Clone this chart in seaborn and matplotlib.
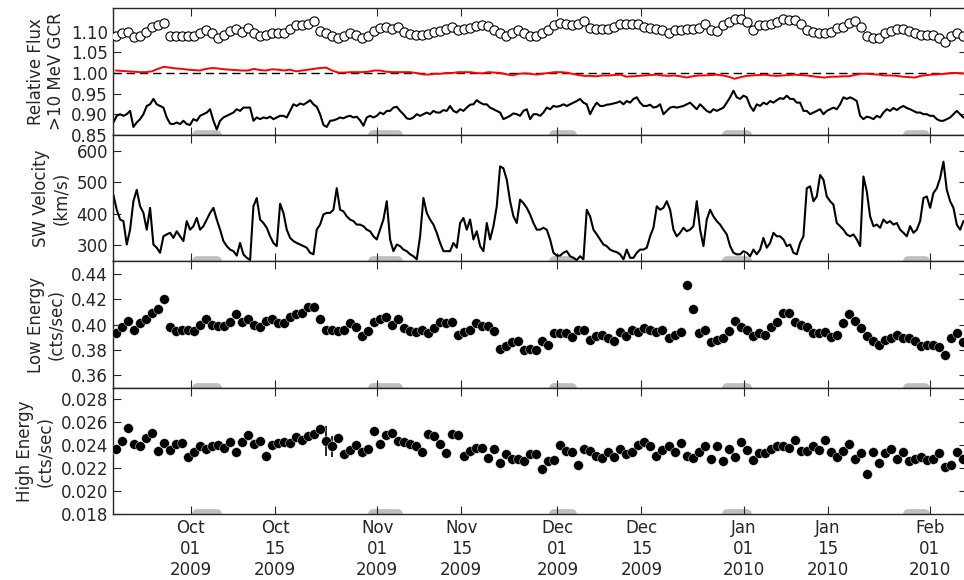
import numpy as np
import pandas as pd
import matplotlib
matplotlib.use("Agg")
import matplotlib.pyplot as plt
import matplotlib.dates as mdates
import seaborn as sns

# daily values (one per day, at noon, from 2009-09-18)
gcr_daily = [
    1.089, 1.098, 1.100, 1.088, 1.089, 1.100, 1.112, 1.116, 1.122, 1.089,
    1.089, 1.089, 1.089, 1.089, 1.098, 1.104, 1.098, 1.086, 1.093, 1.102,
    1.106, 1.100, 1.108, 1.098, 1.090, 1.092, 1.098, 1.098, 1.096, 1.106,
    1.116, 1.116, 1.119, 1.127, 1.102, 1.096, 1.089, 1.084, 1.089, 1.096,
    1.092, 1.086, 1.089, 1.102, 1.108, 1.112, 1.106, 1.111, 1.100, 1.094,
    1.092, 1.092, 1.094, 1.100, 1.102, 1.106, 1.112, 1.104, 1.106, 1.108,
    1.114, 1.116, 1.114, 1.104, 1.096, 1.089,
    1.096, 1.104, 1.096, 1.089, 1.089, 1.096, 1.104, 1.116, 1.122, 1.120,
    1.116, 1.120, 1.127, 1.108, 1.106, 1.106, 1.106, 1.112, 1.119, 1.120,
    1.119, 1.119, 1.112, 1.108, 1.106, 1.104, 1.096, 1.104, 1.104, 1.106,
    1.106, 1.108, 1.119, 1.104, 1.102, 1.116, 1.124, 1.132, 1.130, 1.124,
    1.104, 1.116, 1.116, 1.119, 1.124, 1.130, 1.128, 1.128, 1.119, 1.104,
    1.100, 1.098, 1.098, 1.100, 1.108, 1.112, 1.122, 1.127, 1.111, 1.089,
    1.084, 1.086, 1.096, 1.102, 1.106, 1.106, 1.102, 1.096, 1.092, 1.092,
    1.092, 1.086, 1.076, 1.089, 1.096, 1.089]

ratio_daily = [
    1.006, 1.005, 1.004, 1.003, 1.002, 1.002, 1.004, 1.010, 1.015, 1.013,
    1.011, 1.010, 1.008, 1.007, 1.006, 1.010, 1.012, 1.011, 1.009, 1.008,
    1.007, 1.006, 1.006, 1.010, 1.007, 1.006, 1.009, 1.008, 1.006, 1.008,
    1.004, 1.006, 1.008, 1.010, 1.012, 1.013, 1.006, 1.001, 1.001, 1.002,
    1.002, 1.002, 1.003, 1.006, 1.006, 1.003, 1.002, 1.002, 1.002, 1.002,
    1.000, 0.997, 0.996, 0.998, 0.998, 1.000, 1.000, 1.002, 1.002, 1.002,
    1.000, 0.999, 1.002, 1.001, 1.000, 0.997, 0.994, 0.998, 0.999, 0.998,
    0.996, 0.998, 1.000, 1.002, 1.002, 1.001, 0.998, 0.995, 0.993, 0.993,
    0.992, 0.994, 0.994, 0.995, 0.996, 0.991, 0.992, 0.993, 0.994, 0.995,
    0.996, 0.994, 0.993, 0.994, 0.992, 0.989, 0.992, 0.994, 0.994, 0.995,
    0.996, 0.994, 0.991, 0.986, 0.990, 0.993, 0.994, 0.995, 0.996, 0.994,
    0.993, 0.994, 0.995, 0.996, 0.995, 0.994, 0.992, 0.990, 0.989, 0.991,
    0.991, 0.992, 0.992, 0.995, 0.998, 0.998, 0.997, 0.996, 0.994, 0.994,
    0.993, 0.991, 0.990, 0.989, 0.993, 0.995, 0.996, 0.997, 0.998, 1.000,
    1.000, 0.999]

low_energy = [
    0.393, 0.398, 0.403, 0.396, 0.401, 0.404, 0.409, 0.412, 0.420, 0.398,
    0.395, 0.396, 0.396, 0.395, 0.400, 0.404, 0.400, 0.399, 0.399, 0.402,
    0.408, 0.402, 0.404, 0.400, 0.398, 0.403, 0.404, 0.401, 0.401, 0.406,
    0.408, 0.409, 0.414, 0.414, 0.404, 0.396, 0.396, 0.395, 0.396, 0.401,
    0.398, 0.391, 0.395, 0.402, 0.404, 0.406, 0.400, 0.404, 0.397, 0.395,
    0.394, 0.396, 0.393, 0.397, 0.402, 0.401, 0.402, 0.392, 0.394, 0.396,
    0.401, 0.399, 0.399, 0.395, 0.381,
    0.383, 0.386, 0.387, 0.380, 0.381, 0.380, 0.387, 0.384, 0.393, 0.393,
    0.393, 0.390, 0.396, 0.396, 0.388, 0.391, 0.392, 0.389, 0.387, 0.394,
    0.391, 0.396, 0.394, 0.397, 0.396, 0.394, 0.396, 0.389, 0.392, 0.394,
    0.431, 0.412, 0.393, 0.396, 0.386, 0.388, 0.389, 0.395, 0.403, 0.398,
    0.396, 0.391, 0.393, 0.392, 0.398, 0.402, 0.409, 0.409, 0.402, 0.400,
    0.398, 0.393, 0.393, 0.394, 0.390, 0.392, 0.401, 0.408, 0.403, 0.397,
    0.391, 0.387, 0.384, 0.388, 0.389, 0.392, 0.389, 0.389, 0.387, 0.383,
    0.384, 0.384, 0.382, 0.376, 0.389, 0.393, 0.386]

high_energy = [
    0.0237, 0.0244, 0.0255, 0.0241, 0.0239, 0.0246, 0.0251, 0.0235, 0.0242, 0.0236,
    0.0241, 0.0242, 0.0230, 0.0234, 0.0239, 0.0237, 0.0239, 0.0240, 0.0238, 0.0243,
    0.0234, 0.0243, 0.0249, 0.0241, 0.0244, 0.0231, 0.0240, 0.0242, 0.0243, 0.0242,
    0.0247, 0.0245, 0.0248, 0.0250, 0.0254, 0.0244, 0.0239, 0.0246, 0.0232, 0.0236,
    0.0240, 0.0234, 0.0237, 0.0252, 0.0241, 0.0249, 0.0251, 0.0244, 0.0243, 0.0241,
    0.0239, 0.0234, 0.0250, 0.0248, 0.0241, 0.0233, 0.0250, 0.0249, 0.0231, 0.0235,
    0.0238, 0.0238, 0.0229, 0.0237, 0.0225,
    0.0232, 0.0228, 0.0228, 0.0226, 0.0232, 0.0232, 0.0219, 0.0226, 0.0227, 0.0240,
    0.0235, 0.0234, 0.0223, 0.0237, 0.0235, 0.0231, 0.0229, 0.0234, 0.0230, 0.0237,
    0.0232, 0.0234, 0.0240, 0.0243, 0.0239, 0.0231, 0.0236, 0.0239, 0.0234, 0.0242,
    0.0231, 0.0229, 0.0234, 0.0239, 0.0228, 0.0239, 0.0226, 0.0237, 0.0230, 0.0243,
    0.0236, 0.0227, 0.0233, 0.0233, 0.0237, 0.0239, 0.0239, 0.0238, 0.0245, 0.0235,
    0.0235, 0.0239, 0.0236, 0.0245, 0.0234, 0.0230, 0.0235, 0.0241, 0.0228, 0.0233,
    0.0215, 0.0234, 0.0225, 0.0233, 0.0237, 0.0228, 0.0234, 0.0226, 0.0228, 0.0230,
    0.0227, 0.0228, 0.0233, 0.0221, 0.0223, 0.0234, 0.0228]

# uncertainties, mostly hidden under the markers
low_err = 0.0015
high_err = np.full(len(high_energy), 0.0003)
high_err[35] = 0.0013
high_err[36] = 0.0009

# sub-daily series (one reading every ~13.3 h from 2009-09-18 02:30)
gcr_hourly = [
    0.880, 0.896, 0.900, 0.896, 0.900, 0.908, 0.869, 0.880, 0.888, 0.900,
    0.920, 0.924, 0.937, 0.924, 0.920, 0.916, 0.892, 0.877, 0.876, 0.880,
    0.876, 0.884, 0.876, 0.874, 0.888, 0.884, 0.896, 0.900, 0.904, 0.912,
    0.884, 0.863, 0.884, 0.892, 0.896, 0.900, 0.904, 0.912, 0.908, 0.916,
    0.916, 0.916, 0.884, 0.892, 0.888, 0.892, 0.890, 0.894, 0.888, 0.892,
    0.896, 0.896, 0.892, 0.908, 0.924, 0.920, 0.926, 0.923, 0.928, 0.934,
    0.924, 0.918, 0.900, 0.874, 0.869, 0.884, 0.885, 0.888, 0.892, 0.890,
    0.894, 0.896, 0.892, 0.894, 0.885, 0.872, 0.892, 0.896, 0.892, 0.896,
    0.904, 0.900, 0.908, 0.908, 0.916, 0.918, 0.908, 0.900, 0.890, 0.888,
    0.892, 0.900, 0.896, 0.900, 0.904, 0.900, 0.908, 0.904, 0.904, 0.910,
    0.908, 0.920, 0.908, 0.904, 0.912, 0.908, 0.916, 0.923, 0.924, 0.934,
    0.928, 0.924, 0.924, 0.916, 0.912, 0.908, 0.904,
    0.888, 0.892, 0.896, 0.902, 0.900, 0.896, 0.908, 0.912, 0.888, 0.900,
    0.900, 0.896, 0.904, 0.916, 0.912, 0.920, 0.918, 0.920, 0.924, 0.920,
    0.924, 0.928, 0.932, 0.937, 0.928, 0.924, 0.900, 0.916, 0.928, 0.920,
    0.920, 0.923, 0.924, 0.926, 0.928, 0.931, 0.924, 0.932, 0.928, 0.937,
    0.941, 0.928, 0.920, 0.920, 0.923, 0.916, 0.918, 0.924, 0.900, 0.908,
    0.916, 0.918, 0.916, 0.918, 0.920, 0.924, 0.928, 0.920, 0.912, 0.924,
    0.916, 0.908, 0.904, 0.912, 0.908, 0.912, 0.916, 0.928, 0.941, 0.957,
    0.941, 0.937, 0.945, 0.941, 0.920, 0.908, 0.924, 0.920, 0.928, 0.924,
    0.932, 0.928, 0.934, 0.939, 0.937, 0.945, 0.937, 0.937, 0.928, 0.928,
    0.908, 0.908, 0.900, 0.904, 0.908, 0.912, 0.900, 0.908, 0.912, 0.916,
    0.912, 0.924, 0.941, 0.937, 0.941, 0.937, 0.932, 0.896, 0.888, 0.894,
    0.892, 0.888, 0.896, 0.892, 0.904, 0.912, 0.908, 0.915, 0.910, 0.916,
    0.920, 0.915, 0.912, 0.908, 0.904, 0.904, 0.900, 0.900, 0.896, 0.896,
    0.888, 0.884, 0.884, 0.888, 0.892, 0.900, 0.908, 0.900, 0.892]

sw_speed = [
    460, 413, 382, 377, 303, 350, 440, 476, 424, 403,
    350, 419, 303, 293, 277, 329, 335, 340, 324, 345,
    329, 314, 377, 350, 361, 387, 350, 361, 382, 403,
    419, 382, 350, 314, 298, 287, 282, 268, 308, 272,
    261, 254, 424, 450, 382, 371, 356, 329, 308, 298,
    432, 403, 350, 324, 314, 308, 303, 298, 293, 277,
    272, 350, 366, 398, 403, 403, 413, 481, 413, 408,
    392, 382, 377, 366, 366, 361, 350, 345, 329, 319,
    350, 382, 440, 319, 282, 303, 298, 287, 282, 272,
    266, 256, 329, 450, 403, 382, 366, 340, 308, 282,
    282, 282, 308, 293, 371, 387, 350, 382, 319, 345,
    298, 282, 371, 319, 361, 424, 550,
    544, 508, 440, 392, 371, 445, 434, 419, 398, 371,
    350, 350, 356, 350, 319, 277, 268, 268, 277, 282,
    266, 261, 254, 266, 256, 413, 392, 350, 335, 319,
    303, 298, 287, 282, 279, 272, 256, 287, 261, 261,
    277, 287, 287, 293, 329, 356, 424, 413, 419, 440,
    413, 350, 329, 340, 356, 345, 350, 361, 440, 350,
    298, 382, 413, 392, 377, 366, 350, 335, 298, 277,
    272, 272, 282, 277, 266, 287, 272, 287, 324, 293,
    308, 340, 329, 329, 319, 298, 303, 277, 272, 308,
    329, 481, 487, 440, 455, 523, 508, 455, 440, 429,
    371, 361, 350, 335, 329, 335, 319, 298, 518, 471,
    392, 361, 366, 356, 382, 371, 377, 366, 371, 350,
    340, 329, 361, 340, 350, 377, 450, 455, 419, 466,
    481, 513, 565, 476, 440, 419, 366, 350, 377]

# grey bars along the bottom of each panel
grey_start = ["2009-10-01 23:00", "2009-10-31 07:00", "2009-11-30 10:00",
              "2009-12-29 07:00", "2010-01-28 07:00"]
grey_end = ["2009-10-05 09:00", "2009-11-04 12:00", "2009-12-03 10:00",
            "2010-01-01 12:00", "2010-01-31 05:00"]

ylabels = ["Relative Flux\n>10 MeV GCR", "SW Velocity\n(km/s)",
           "Low Energy\n(cts/sec)", "High Energy\n(cts/sec)"]
ylims = [(0.85, 1.157), (250, 650), (0.35, 0.45), (0.018, 0.029)]
yticks = [[0.85, 0.90, 0.95, 1.00, 1.05, 1.10],
          [300, 400, 500, 600],
          [0.36, 0.38, 0.40, 0.42, 0.44],
          [0.018, 0.020, 0.022, 0.024, 0.026, 0.028]]
ytick_fmt = ["%.2f", "%d", "%.2f", "%.3f"]

days = pd.date_range("2009-09-18 12:00", periods=len(gcr_daily), freq="D")
t_fine = pd.date_range("2009-09-18 02:30", periods=len(gcr_hourly), freq="799min")

sns.set_style("ticks")
plt.rcParams["font.family"] = ["DejaVu Sans"]
plt.rcParams["font.size"] = 12
plt.rcParams["axes.linewidth"] = 1.0

fig, axes = plt.subplots(4, 1, sharex=True, figsize=(9.64, 5.80), dpi=100)
fig.subplots_adjust(left=0.117, right=1.003, top=0.9857, bottom=0.1133, hspace=0)

# 1 - GCR flux
ax = axes[0]
ax.axhline(1.0, color="k", lw=1.0, ls=(0, (6, 3.5)), zorder=1)
sns.lineplot(x=t_fine, y=gcr_hourly, ax=ax, color="k", lw=1.5, estimator=None)
sns.lineplot(x=days, y=ratio_daily, ax=ax, color="red", lw=1.4, estimator=None)
sns.scatterplot(x=days, y=gcr_daily, ax=ax, s=44, color="white",
                edgecolor="black", linewidth=0.8, zorder=3)

# 2 - solar wind
ax = axes[1]
sns.lineplot(x=t_fine, y=sw_speed, ax=ax, color="k", lw=1.5, estimator=None)

# 3 - low energy rate
ax = axes[2]
ax.errorbar(days, low_energy, yerr=low_err, fmt="none", ecolor="k", elinewidth=1.2, zorder=2)
sns.scatterplot(x=days, y=low_energy, ax=ax, s=50, color="black",
                edgecolor="white", linewidth=0.3, zorder=3)

# 4 - high energy rate
ax = axes[3]
ax.errorbar(days, high_energy, yerr=high_err, fmt="none", ecolor="k", elinewidth=1.2, zorder=2)
sns.scatterplot(x=days, y=high_energy, ax=ax, s=50, color="black",
                edgecolor="white", linewidth=0.3, zorder=3)

for i, ax in enumerate(axes):
    ax.set_ylim(*ylims[i])
    ax.set_yticks(yticks[i])
    ax.yaxis.set_major_formatter(matplotlib.ticker.FormatStrFormatter(ytick_fmt[i]))
    ax.set_ylabel(ylabels[i], fontsize=12)
    for s, e in zip(pd.to_datetime(grey_start), pd.to_datetime(grey_end)):
        ax.plot([s, e], [ylims[i][0], ylims[i][0]], color="0.75", lw=7,
                solid_capstyle="round", zorder=0.5)
    ax.tick_params(direction="in", top=True, right=True, length=6, width=0.8,
                   labelsize=12)
    for sp in ax.spines.values():
        sp.set_visible(True)

axes[-1].set_xlim(pd.Timestamp("2009-09-18 00:00"), pd.Timestamp("2010-02-07 04:00"))
axes[-1].xaxis.set_major_locator(mdates.DayLocator(bymonthday=[1, 15]))
axes[-1].xaxis.set_major_formatter(mdates.DateFormatter("%b\n%d\n%Y"))
for lab in axes[-1].get_xticklabels():
    lab.set_ha("center")

fig.savefig("out.png", dpi=100)
